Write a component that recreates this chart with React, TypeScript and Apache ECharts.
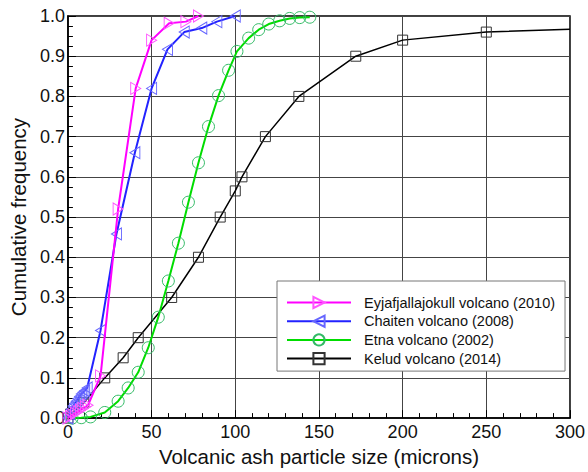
import React, { useEffect, useRef } from "react";
import * as echarts from "echarts";

const seriesNames = [
  "Eyjafjallajokull volcano (2010)",
  "Chaiten volcano (2008)",
  "Etna volcano (2002)",
  "Kelud volcano (2014)",
];

const eyjafjallajokull: number[][] = [
  [0, 0], [1.5, 0.004], [3, 0.008], [4.5, 0.012], [6, 0.016], [7.5, 0.02],
  [9, 0.024], [10.5, 0.028], [12, 0.032], [19.5, 0.105], [30, 0.52],
  [40.5, 0.82], [50, 0.94], [60.5, 0.982], [70.5, 0.986], [78, 1.0],
];

const chaiten: number[][] = [
  [0, 0], [1, 0.012], [2, 0.022], [3, 0.03], [4, 0.036], [5, 0.042],
  [6, 0.048], [7, 0.054], [8, 0.06], [9, 0.064], [10, 0.068], [11.5, 0.075],
  [19.5, 0.218], [29, 0.458], [40, 0.66], [50, 0.82], [59.5, 0.917],
  [69.5, 0.96], [80, 0.97], [89, 0.986], [100, 1.0],
];

const etna: number[][] = [
  [2.5, 0], [8, 0.001], [13.5, 0.003], [22, 0.014], [30, 0.042], [36, 0.075],
  [42, 0.114], [48, 0.175], [54, 0.251], [60, 0.341], [66, 0.435],
  [72, 0.537], [78, 0.635], [84, 0.725], [90, 0.802], [96, 0.865],
  [101, 0.912], [108, 0.945], [114, 0.966], [120, 0.98], [126.5, 0.988],
  [132.5, 0.994], [138.5, 0.996], [144.5, 0.997],
];

const kelud: number[][] = [
  [0, 0], [1.6, 0.01], [9.5, 0.038], [22, 0.1], [33, 0.15], [42, 0.2],
  [62, 0.3], [78, 0.4], [91, 0.5], [100, 0.565], [104, 0.6], [118, 0.7],
  [138, 0.8], [172, 0.9], [200, 0.94], [250, 0.96],
];
const keludTail: number[] = [300, 0.967];

const FONT = "Liberation Sans, Arial, sans-serif";
const RIGHT_TRI = "path://M0,0L10,6L0,12Z";
const LEFT_TRI = "path://M10,0L0,6L10,12Z";

export default function App() {
  const ref = useRef<HTMLDivElement>(null);
  useEffect(() => {
    if (!ref.current) return;
    const chart = echarts.init(ref.current, undefined, { renderer: "svg" });
    const hollow = (c: string) => ({ color: "rgba(255,255,255,0)", borderColor: c, borderWidth: 1 });
    chart.setOption({
      animation: false,
      textStyle: { fontFamily: FONT },
      grid: {
        left: 64, top: 16, right: 16, bottom: 48, show: true,
        borderColor: "#000", borderWidth: 1.5, backgroundColor: "transparent",
      },
      legend: {
        orient: "vertical",
        left: 277, top: 281,
        padding: [14, 10, 5, 9],
        itemWidth: 64, itemHeight: 14, itemGap: 3.7,
        borderColor: "#777", borderWidth: 1, backgroundColor: "#fff",
        textStyle: { fontFamily: FONT, fontSize: 14.5, color: "#111", padding: [0, 0, 0, 8] },
        data: seriesNames,
      },
      xAxis: {
        type: "value", min: 0, max: 300, interval: 50,
        name: "Volcanic ash particle size (microns)",
        nameLocation: "middle", nameGap: 27,
        nameTextStyle: { fontFamily: FONT, fontSize: 20.5, color: "#111" },
        axisLine: { show: true, lineStyle: { color: "#000", width: 1.5 } },
        axisTick: { show: true, inside: true, length: 8, lineStyle: { color: "#000" } },
        minorTick: { show: true, splitNumber: 5, length: 5, lineStyle: { color: "#000" } },
        axisLabel: { fontFamily: FONT, fontSize: 18, color: "#111", margin: 5 },
        splitLine: { show: true, lineStyle: { color: "#444", width: 1 } },
      },
      yAxis: {
        type: "value", min: 0, max: 1, interval: 0.1,
        name: "Cumulative frequency",
        nameLocation: "middle", nameGap: 36,
        nameTextStyle: { fontFamily: FONT, fontSize: 20.5, color: "#111" },
        axisLine: { show: true, lineStyle: { color: "#000", width: 1.5 } },
        axisTick: { show: true, inside: true, length: 8, lineStyle: { color: "#000" } },
        minorTick: { show: true, splitNumber: 4, length: 5, lineStyle: { color: "#000" } },
        axisLabel: {
          fontFamily: FONT, fontSize: 18, color: "#111", margin: 3,
          formatter: (v: number) => v.toFixed(1),
        },
        splitLine: { show: true, lineStyle: { color: "#444", width: 1 } },
      },
      series: [
        {
          name: seriesNames[0], type: "line", data: eyjafjallajokull,
          symbol: RIGHT_TRI, symbolSize: [10, 12], showAllSymbol: true,
          color: "#ff00ff",
          lineStyle: { color: "#ff00ff", width: 2 },
          itemStyle: hollow("#ff55ff"), z: 4,
        },
        {
          name: seriesNames[1], type: "line", data: chaiten,
          symbol: LEFT_TRI, symbolSize: [10, 12], showAllSymbol: true,
          color: "#2222ff",
          lineStyle: { color: "#2222ff", width: 2 },
          itemStyle: hollow("#6666ff"), z: 3,
        },
        {
          name: seriesNames[2], type: "line", data: etna,
          symbol: "circle", symbolSize: 12, showAllSymbol: true,
          color: "#00dd00",
          lineStyle: { color: "#00dd00", width: 2 },
          itemStyle: hollow("#33bb66"), z: 2,
        },
        {
          name: seriesNames[3], type: "line",
          data: [...kelud, { value: keludTail, symbol: "none" }],
          symbol: "rect", symbolSize: 10, showAllSymbol: true,
          color: "#000",
          lineStyle: { color: "#000", width: 1.5 },
          itemStyle: hollow("#333"), z: 1,
        },
      ],
    });
    return () => chart.dispose();
  }, []);
  return <div ref={ref} style={{ width: 588, height: 472, position: "absolute", left: 0, top: 0 }} />;
}
